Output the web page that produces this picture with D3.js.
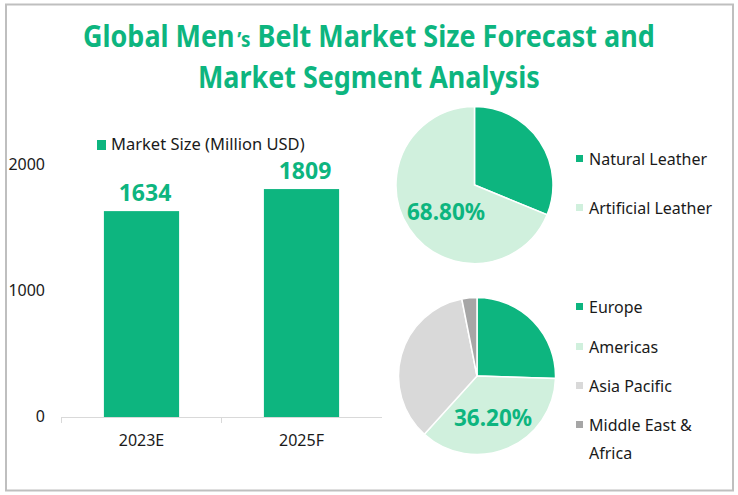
<!DOCTYPE html>
<html>
<head>
<meta charset="utf-8">
<script src="https://cdn.jsdelivr.net/npm/d3@7"></script>
<style>
    html, body { margin: 0; padding: 0; background: #fff; }
    svg { display: block; }
    text { font-family: "Noto Sans", "Open Sans", sans-serif; }
</style>
</head>
<body>
<svg id="chart" width="738" height="495"></svg>
<script>
var titleLines = [["Global Men", "\u2019s", "Belt Market Size Forecast and"], ["Market Segment Analysis"]];
var titleWidths = [572, 342];

var years = ["2023E", "2025F"];
var marketSize = [1634, 1809];
var sizeTicks = [0, 1000, 2000];
var sizeLegend = "Market Size (Million USD)";

var materials = ["Natural Leather", "Artificial Leather"];
var materialShares = [31.2, 68.8];

var regions = ["Europe", "Americas", "Asia Pacific", "Middle East & Africa"];
var regionShares = [25.5, 36.2, 35.2, 3.1];

var GREEN = "#0db57f", MINT = "#d0f0dd", LIGHT = "#d9d9d9", GREY = "#a6a6a6";
var INK = "#1a1a1a";

var svg = d3.select("#chart");

// frame
svg.append("rect")
    .attr("x", 6).attr("y", 4.5)
    .attr("width", 727).attr("height", 486)
    .attr("fill", "none")
    .attr("stroke", "#bfbfbf")
    .attr("stroke-width", 2);

// title, the 's of Men's is set smaller in the original so each run is its own text
titleLines.forEach(function(parts, line){
    var gaps = [3, 8];
    var g = svg.append("g");
    var cursor = 0;
    parts.forEach(function(p, i){
        var t = g.append("text")
            .attr("class", "title")
            .attr("x", cursor)
            .attr("font-size", i == 1 ? 21 : 30)
            .attr("font-weight", 700)
            .attr("fill", GREEN)
            .text(p);
        cursor += t.node().getComputedTextLength() + (i < parts.length - 1 ? gaps[i] : 0);
    });
    var k = titleWidths[line] / cursor;
    g.attr("transform", "translate(" + (369 - titleWidths[line] / 2) + "," + (47 + line * 41) + ") scale(" + k + ",1)");
});

// bar chart
var x = d3.scaleBand().domain(years).range([61.5, 381.5]).paddingInner(0.53).paddingOuter(0.265);
var y = d3.scaleLinear().domain([0, 2000]).range([417, 165]);

var xAxis = svg.append("g")
    .attr("transform", "translate(0,417)")
    .call(d3.axisBottom(x).tickSize(0).tickPadding(0));
xAxis.select(".domain").attr("stroke", "#d9d9d9");
xAxis.selectAll("text")
    .attr("y", 23)
    .attr("dy", "0.35em")
    .attr("font-size", 16)
    .attr("font-family", "Noto Sans")
    .attr("fill", INK);
// boundary ticks between the categories
svg.append("g").selectAll("line")
    .data([x.range()[0], d3.mean(x.range())])
    .enter().append("line")
    .attr("x1", function(d){ return d; })
    .attr("x2", function(d){ return d; })
    .attr("y1", 417).attr("y2", 423)
    .attr("stroke", "#d9d9d9");

var yAxis = svg.append("g")
    .attr("transform", "translate(45,-0.5)")
    .call(d3.axisLeft(y).tickValues(sizeTicks).tickFormat(d3.format("d")).tickSize(0).tickPadding(0));
yAxis.select(".domain").remove();
yAxis.selectAll("text")
    .attr("font-size", 16)
    .attr("font-family", "Noto Sans")
    .attr("fill", INK);

var bars = years.map(function(d, i){ return {year: d, value: marketSize[i]}; });
svg.selectAll("rect.bar")
    .data(bars)
    .enter().append("rect")
    .attr("class", "bar")
    .attr("x", function(d){ return x(d.year); })
    .attr("y", function(d){ return y(d.value); })
    .attr("width", x.bandwidth())
    .attr("height", function(d){ return y(0) - y(d.value); })
    .attr("fill", GREEN);

svg.selectAll("text.barlabel")
    .data(bars)
    .enter().append("text")
    .attr("class", "barlabel")
    .attr("x", function(d){ return x(d.year) + x.bandwidth() / 2 + 3.5; })
    .attr("y", function(d){ return y(d.value) - 10; })
    .attr("text-anchor", "middle")
    .attr("font-size", 23)
    .attr("font-weight", 700)
    .attr("fill", GREEN)
    .text(function(d){ return d.value; });

svg.append("rect").attr("x", 97).attr("y", 140).attr("width", 9).attr("height", 10).attr("fill", GREEN);
svg.append("text")
    .attr("x", 111).attr("y", 149.5)
    .attr("font-size", 16.5)
    .attr("fill", INK)
    .text(sizeLegend);

// pies
function drawPie(cx, cy, radius, values, colors, labelIndex, labelPos){
    var pie = d3.pie().sort(null);
    var arc = d3.arc().innerRadius(0).outerRadius(radius);
    var g = svg.append("g").attr("transform", "translate(" + cx + "," + cy + ")");
    g.selectAll("path")
        .data(pie(values))
        .enter().append("path")
        .attr("d", arc)
        .attr("fill", function(d, i){ return colors[i]; })
        .attr("stroke", "#fff")
        .attr("stroke-width", 1.5);
    g.append("text")
        .attr("x", labelPos[0]).attr("y", labelPos[1])
        .attr("text-anchor", "middle")
        .attr("font-size", 22.5)
        .attr("font-weight", 700)
        .attr("fill", GREEN)
        .text(d3.format(".2f")(values[labelIndex]) + "%");
}
drawPie(474.5, 185, 78.5, materialShares, [GREEN, MINT], 1, [-28.5, 35]);
drawPie(477, 376, 78.5, regionShares, [GREEN, MINT, LIGHT, GREY], 1, [16, 50]);

// pie legends
function drawLegend(names, colors, ys){
    var g = svg.append("g");
    names.forEach(function(name, i){
        g.append("rect")
            .attr("x", 576).attr("y", ys[i] - 4)
            .attr("width", 7).attr("height", 7)
            .attr("fill", colors[i]);
        var words = name == "Middle East & Africa" ? ["Middle East &", "Africa"] : [name];
        words.forEach(function(w, j){
            g.append("text")
                .attr("x", 589).attr("y", ys[i] + 6 + j * 28)
                .attr("font-size", 16)
                .attr("fill", INK)
                .text(w);
        });
    });
}
drawLegend(materials, [GREEN, MINT], [159, 208]);
drawLegend(regions, [GREEN, MINT, LIGHT, GREY], [307, 347, 386, 425]);
</script>
</body>
</html>
